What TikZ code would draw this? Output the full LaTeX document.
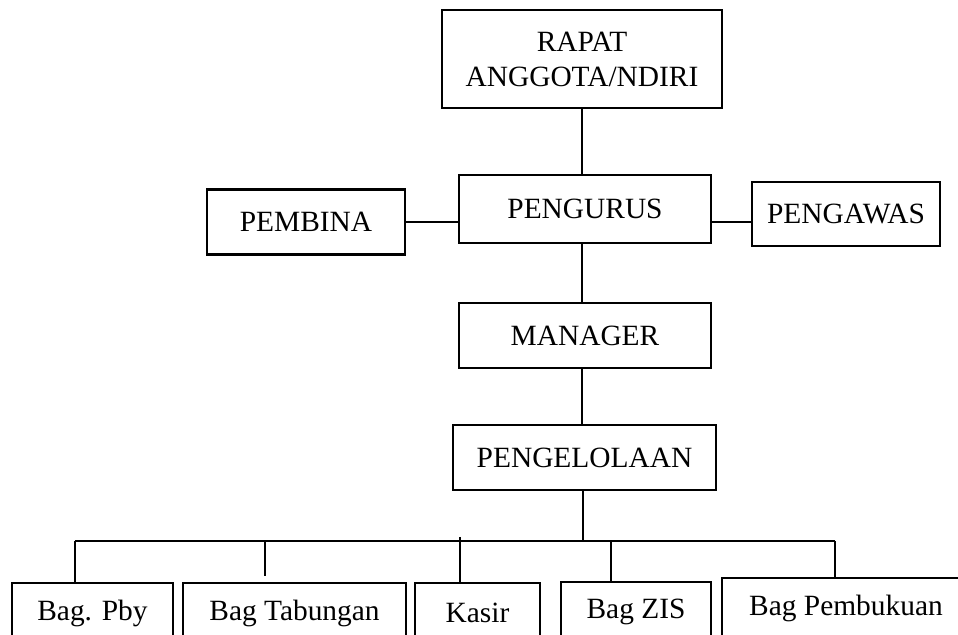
\documentclass[tikz,border=0pt]{standalone}
\usepackage{fontspec}
\setmainfont{Liberation Serif}
\usepackage{tikz}
\usetikzlibrary{positioning,calc}
\tikzset{
  box/.style  = {draw, line width=1.1pt, inner sep=0pt, align=center,
                 font=\fontsize{14.7}{17.5}\selectfont},
  link/.style = {line width=1pt},
}

\begin{document}
\begin{tikzpicture}[x=0.5pt,y=-0.5pt]
  \clip (0,0) rectangle (958,635);
  % top of the chart
  \node[box, minimum width=140pt, minimum height=49pt] (rapat) at (582,59) {RAPAT\\ANGGOTA/NDIRI};
  \node[box, minimum width=126pt, minimum height=34pt] (pengurus) at (585,209) {PENGURUS};
  \node[box, minimum width=99pt, minimum height=32.5pt] (pembina) at (306,222) {PEMBINA};
  \node[box, minimum width=94pt, minimum height=32pt] (pengawas) at (846,214) {PENGAWAS};
  \node[box, minimum width=126pt, minimum height=32.5pt] (manager) at (585,335.5) {MANAGER};
  \node[box, minimum width=131.5pt, minimum height=32.5pt] (kelola) at (584.5,457.5) {PENGELOLAAN};
  % bottom row (cut by the page edge)
  \node[box, minimum width=80.5pt, minimum height=30pt] (pby) at (92.5,613) {Bag. Pby};
  \node[box, minimum width=111.5pt, minimum height=30pt] (tabungan) at (294.5,613) {Bag Tabungan};
  \node[box, minimum width=62.5pt, minimum height=30pt] (kasir) at (477.5,613) {Kasir};
  \node[box, minimum width=75pt, minimum height=30pt] (zis) at (636,612) {Bag ZIS};
  \node[box, minimum width=124pt, minimum height=30pt] (buku) at (846,608) {Bag Pembukuan};
  \draw[link] (rapat.south) -- (rapat.south |- pengurus.north);
  \draw[link] (pembina.east) -- (pembina.east -| pengurus.west);
  \draw[link] (pengurus.east |- pembina.east) -- (pengawas.west |- pembina.east);
  \draw[link] (pengurus.south -| rapat.south) -- (rapat.south |- manager.north);
  \draw[link] (manager.south -| rapat.south) -- (rapat.south |- kelola.north);
  % bus to the sections
  \coordinate (bus) at (583,541);
  \coordinate (busL) at (75,541);
  \coordinate (busR) at (835,541);
  \coordinate (dTab) at (265,541);
  \coordinate (dKas) at (460,537);
  \coordinate (dZis) at (611,541);
  \draw[link] (kelola.south -| bus) -- (bus);
  \draw[link] (busL) -- (busR);
  \draw[link] (busL) -- (busL |- pby.north);
  \draw[link] (dTab) -- ++(0,35);
  \draw[link] (dKas) -- (dKas |- kasir.north);
  \draw[link] (dZis) -- (dZis |- zis.north);
  \draw[link] (busR) -- (busR |- buku.north);
\end{tikzpicture}
\end{document}
